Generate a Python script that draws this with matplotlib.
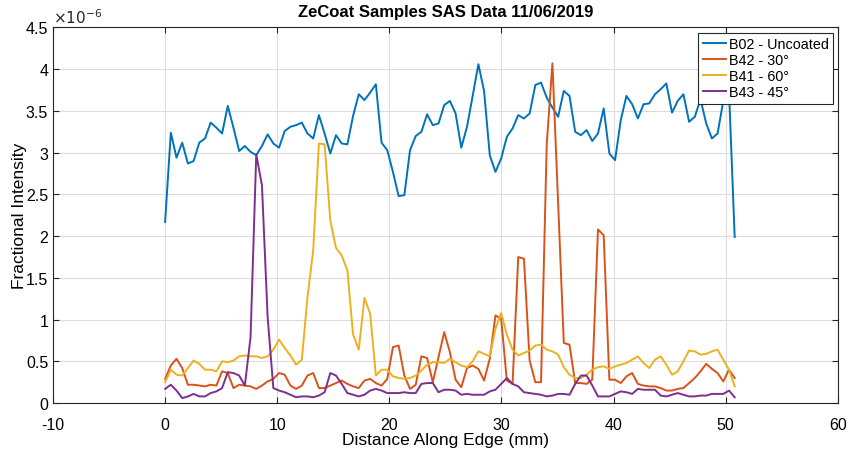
import numpy as np
import matplotlib
matplotlib.use('Agg')
import matplotlib.pyplot as plt
from matplotlib.ticker import FuncFormatter

plt.rcParams['font.family'] = ['Liberation Sans', 'DejaVu Sans']
plt.rcParams['axes.unicode_minus'] = False

# Sample positions along the edge (mm), 101 scan points.
distance_mm = np.linspace(0, 50.8, 101)

# Fractional intensity, in units of 1e-6.
b02_uncoated = [2.17, 3.24, 2.94, 3.12, 2.87, 2.90, 3.12, 3.17, 3.36, 3.30,
                3.23, 3.56, 3.30, 3.02, 3.08, 3.01, 2.97, 3.08, 3.22, 3.11,
                3.06, 3.26, 3.31, 3.33, 3.36, 3.23, 3.17, 3.45, 3.23, 2.99,
                3.21, 3.11, 3.10, 3.44, 3.70, 3.63, 3.72, 3.82, 3.12, 3.03,
                2.77, 2.48, 2.49, 3.03, 3.20, 3.25, 3.46, 3.33, 3.35, 3.57,
                3.62, 3.47, 3.06, 3.31, 3.68, 4.06, 3.74, 2.97, 2.77, 2.93,
                3.19, 3.29, 3.45, 3.41, 3.47, 3.81, 3.84, 3.66, 3.54, 3.43,
                3.74, 3.68, 3.25, 3.21, 3.27, 3.14, 3.23, 3.53, 2.99, 2.91,
                3.39, 3.68, 3.58, 3.41, 3.58, 3.59, 3.70, 3.76, 3.83, 3.48,
                3.62, 3.70, 3.37, 3.43, 3.64, 3.35, 3.17, 3.23, 3.62, 3.75,
                1.99]
b42_30 = [0.29, 0.45, 0.53, 0.42, 0.22, 0.22, 0.21, 0.20, 0.22, 0.21,
          0.38, 0.36, 0.18, 0.22, 0.21, 0.20, 0.17, 0.21, 0.26, 0.29,
          0.36, 0.34, 0.21, 0.17, 0.21, 0.33, 0.36, 0.18, 0.18, 0.21,
          0.24, 0.27, 0.23, 0.20, 0.18, 0.27, 0.29, 0.24, 0.21, 0.29,
          0.67, 0.69, 0.33, 0.17, 0.22, 0.56, 0.54, 0.25, 0.55, 0.85,
          0.61, 0.28, 0.19, 0.42, 0.45, 0.41, 0.27, 0.53, 1.05, 1.01,
          0.27, 0.23, 1.75, 1.73, 0.51, 0.25, 0.25, 3.10, 4.07, 2.40,
          0.72, 0.70, 0.24, 0.24, 0.23, 0.28, 2.08, 2.01, 0.28, 0.28,
          0.24, 0.32, 0.36, 0.23, 0.21, 0.20, 0.20, 0.18, 0.15, 0.15,
          0.17, 0.18, 0.24, 0.30, 0.38, 0.47, 0.41, 0.36, 0.26, 0.40,
          0.30]
b41_60 = [0.25, 0.40, 0.34, 0.33, 0.42, 0.51, 0.47, 0.40, 0.40, 0.38,
          0.50, 0.49, 0.51, 0.56, 0.57, 0.56, 0.56, 0.54, 0.56, 0.64,
          0.76, 0.66, 0.57, 0.46, 0.52, 1.27, 1.83, 3.11, 3.10, 2.19,
          1.86, 1.77, 1.59, 0.82, 0.64, 1.26, 1.07, 0.33, 0.40, 0.40,
          0.32, 0.30, 0.29, 0.30, 0.33, 0.39, 0.46, 0.49, 0.49, 0.48,
          0.53, 0.49, 0.45, 0.43, 0.50, 0.62, 0.59, 0.56, 0.89, 1.08,
          0.82, 0.64, 0.57, 0.60, 0.63, 0.69, 0.70, 0.64, 0.62, 0.58,
          0.43, 0.34, 0.30, 0.30, 0.34, 0.40, 0.43, 0.44, 0.41, 0.44,
          0.46, 0.48, 0.52, 0.56, 0.48, 0.42, 0.52, 0.56, 0.46, 0.34,
          0.38, 0.50, 0.63, 0.62, 0.58, 0.59, 0.62, 0.64, 0.52, 0.40,
          0.20]
b43_45 = [0.17, 0.22, 0.15, 0.06, 0.08, 0.11, 0.08, 0.08, 0.12, 0.14,
          0.18, 0.37, 0.36, 0.33, 0.21, 0.79, 2.98, 2.61, 1.03, 0.18,
          0.15, 0.13, 0.10, 0.07, 0.08, 0.08, 0.07, 0.09, 0.13, 0.36,
          0.33, 0.23, 0.12, 0.10, 0.08, 0.10, 0.15, 0.17, 0.15, 0.12,
          0.12, 0.12, 0.13, 0.12, 0.12, 0.23, 0.24, 0.24, 0.13, 0.16,
          0.16, 0.15, 0.10, 0.11, 0.10, 0.10, 0.10, 0.14, 0.16, 0.23,
          0.30, 0.23, 0.20, 0.13, 0.12, 0.11, 0.10, 0.08, 0.09, 0.11,
          0.11, 0.10, 0.23, 0.33, 0.33, 0.21, 0.08, 0.08, 0.08, 0.11,
          0.14, 0.13, 0.11, 0.17, 0.16, 0.16, 0.16, 0.09, 0.08, 0.10,
          0.12, 0.10, 0.08, 0.08, 0.09, 0.09, 0.11, 0.11, 0.11, 0.15,
          0.07]

labels = ['B02 - Uncoated', 'B42 - 30°', 'B41 - 60°', 'B43 - 45°']
colours = ['#0072BD', '#D95319', '#EDB120', '#7E2F8E']

fig = plt.figure(figsize=(8.48, 4.52), dpi=100)
ax = fig.add_axes([0.0625, 0.106, 0.9255, 0.831])

for series, lab, col in zip([b02_uncoated, b42_30, b41_60, b43_45], labels, colours):
    ax.plot(distance_mm, series, color=col, linewidth=1.4, label=lab)

ax.set_xlim(-10, 60)
ax.set_ylim(0, 4.5)
ax.set_xticks(np.arange(-10, 61, 10))
ax.set_yticks(np.arange(0, 4.51, 0.5))
ax.yaxis.set_major_formatter(FuncFormatter(lambda v, p: '%g' % v))

axis_grey = '#262626'
ax.grid(True, color='#dcdcdc', linewidth=0.8)
ax.set_axisbelow(True)
for s in ax.spines.values():
    s.set_color(axis_grey)
    s.set_linewidth(0.8)
ax.tick_params(direction='in', length=4, width=0.8, colors=axis_grey,
               labelsize=11.5, top=True, right=True, labelcolor='black')
ax.tick_params(axis='x', pad=10)

ax.text(0.0, 1.005, r'$\times10^{-6}$', transform=ax.transAxes,
        fontsize=11, ha='left', va='bottom', color=axis_grey)

ax.set_title('ZeCoat Samples SAS Data 11/06/2019', fontsize=12,
             fontweight='bold', pad=8)
ax.set_xlabel('Distance Along Edge (mm)', fontsize=12.5, labelpad=0)
ax.set_ylabel('Fractional Intensity', fontsize=12.5, labelpad=-1)

leg = ax.legend(loc='upper right', fontsize=10.4, frameon=True, fancybox=False,
                framealpha=1, edgecolor=axis_grey, handlelength=1.6,
                handletextpad=0.2, borderpad=0.3, labelspacing=0.15,
                borderaxespad=0.35)
leg.get_frame().set_linewidth(0.8)

fig.savefig('out.png', dpi=100)
